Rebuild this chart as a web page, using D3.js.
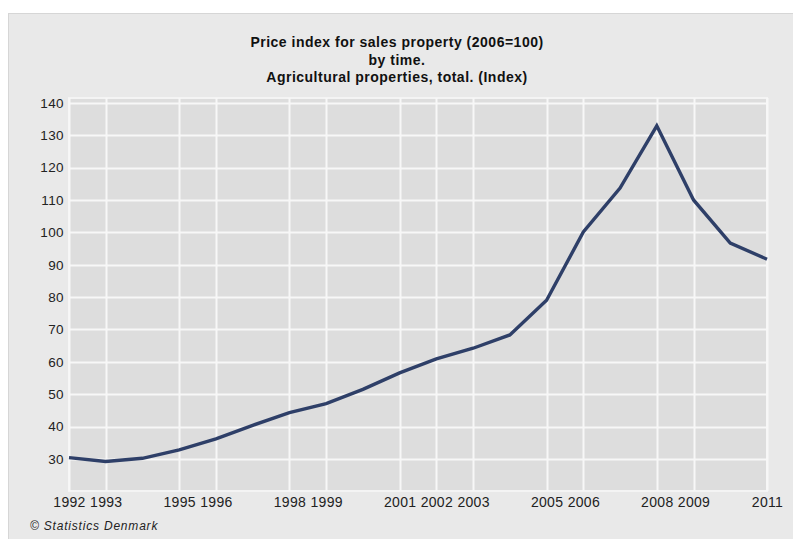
<!DOCTYPE html>
<html lang="en">

<head>
  <title>Price index for sales property</title>
  <script src="https://d3js.org/d3.v7.min.js"></script>
  <style>
    body { margin: 0; background: #ffffff; }
    svg { display: block; font-family: "Liberation Sans", Arial, sans-serif; }
  </style>
</head>

<body>
  <script>
    // Data (annual values)
    const years = [1992, 1993, 1994, 1995, 1996, 1997, 1998, 1999, 2000, 2001,
      2002, 2003, 2004, 2005, 2006, 2007, 2008, 2009, 2010, 2011];
    const indexValues = [30.4, 29.2, 30.2, 32.8, 36.2, 40.4, 44.3, 47.1, 51.5, 56.6,
      60.9, 64.2, 68.3, 79.0, 100.1, 113.7, 132.9, 110.0, 96.7, 91.7];
    const xTickYears = [1992, 1993, 1995, 1996, 1998, 1999, 2001, 2002, 2003,
      2005, 2006, 2008, 2009, 2011];
    const yTicks = [30, 40, 50, 60, 70, 80, 90, 100, 110, 120, 130, 140];
    const titleLines = ["Price index for sales property (2006=100)", "by time.",
      "Agricultural properties, total. (Index)"];

    const W = 793, H = 539;
    const margin = { top: 98, right: 26, bottom: 48, left: 69 };
    const width = W - margin.left - margin.right;
    const height = H - margin.top - margin.bottom;

    const svg = d3.select("body").append("svg")
      .attr("width", W)
      .attr("height", H);

    // outer panel
    svg.append("rect")
      .attr("x", 8.5).attr("y", 13.5)
      .attr("width", W).attr("height", H)
      .attr("fill", "#e9e9e9")
      .attr("stroke", "#d6d6d6");

    // title
    svg.append("g").selectAll("text")
      .data(titleLines)
      .join("text")
      .attr("x", 397)
      .attr("y", (d, i) => 47 + i * 17.5)
      .attr("text-anchor", "middle")
      .attr("font-size", 14)
      .attr("letter-spacing", 0.5)
      .attr("font-weight", "bold")
      .attr("fill", "#111")
      .text(d => d);

    const g = svg.append("g").attr("transform", `translate(${margin.left},${margin.top})`);

    const x = d3.scaleLinear().domain([1992, 2011]).range([0, width]);
    const y = d3.scaleLinear().domain([20.1, 141.5]).range([height, 0]);

    // plot background
    g.append("rect")
      .attr("width", width).attr("height", height)
      .attr("fill", "#dddddd")
      .attr("stroke", "#f4f4f4")
      .attr("stroke-width", 2);

    // gridlines
    g.append("g").selectAll("line.h")
      .data(yTicks)
      .join("line")
      .attr("x1", 0).attr("x2", width)
      .attr("y1", d => Math.round(y(d)) + 0.5).attr("y2", d => Math.round(y(d)) + 0.5)
      .attr("stroke", "#f7f7f7").attr("stroke-width", 2);
    g.append("g").selectAll("line.v")
      .data(xTickYears)
      .join("line")
      .attr("y1", 0).attr("y2", height)
      .attr("x1", d => Math.round(x(d)) + 0.5).attr("x2", d => Math.round(x(d)) + 0.5)
      .attr("stroke", "#f7f7f7").attr("stroke-width", 2);

    // axes
    const yAxis = g.append("g")
      .call(d3.axisLeft(y).tickValues(yTicks).tickSize(0).tickPadding(5));
    yAxis.select(".domain").remove();
    yAxis.selectAll("text").attr("font-size", 13.5).attr("letter-spacing", 0.4).attr("fill", "#222")
      .attr("font-family", "Liberation Sans, Arial, sans-serif");

    const xAxis = g.append("g")
      .attr("transform", `translate(0,${height})`)
      .call(d3.axisBottom(x).tickValues(xTickYears).tickFormat(d3.format("d")).tickSize(0).tickPadding(6));
    xAxis.select(".domain").remove();
    xAxis.selectAll("text").attr("font-size", 14).attr("letter-spacing", 0.3).attr("fill", "#222")
      .attr("font-family", "Liberation Sans, Arial, sans-serif");

    // the line
    const line = d3.line()
      .x((d, i) => x(years[i]))
      .y(d => y(d));
    g.append("path")
      .datum(indexValues)
      .attr("fill", "none")
      .attr("stroke", "#2e3f68")
      .attr("stroke-width", 3.4)
      .attr("stroke-linejoin", "miter")
      .attr("d", line);

    // footer
    svg.append("text")
      .attr("x", 30).attr("y", 530)
      .attr("font-size", 12)
      .attr("letter-spacing", 0.8)
      .attr("font-style", "italic")
      .attr("fill", "#222")
      .text("\u00a9 Statistics Denmark");
  </script>
</body>

</html>
